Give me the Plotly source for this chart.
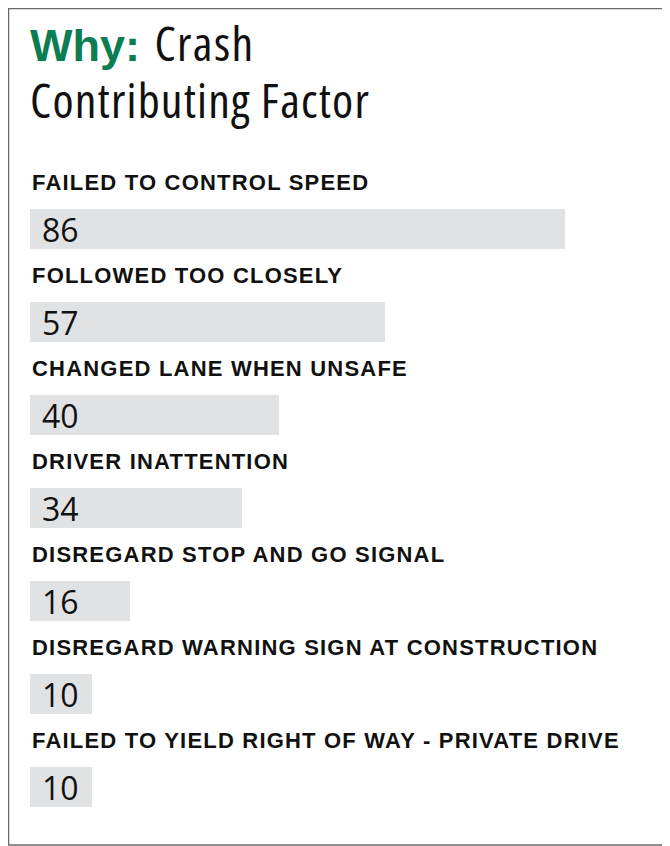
import plotly.graph_objects as go

factors = [
    "FAILED TO CONTROL SPEED",
    "FOLLOWED TOO CLOSELY",
    "CHANGED LANE WHEN UNSAFE",
    "DRIVER INATTENTION",
    "DISREGARD STOP AND GO SIGNAL",
    "DISREGARD WARNING SIGN AT CONSTRUCTION",
    "FAILED TO YIELD RIGHT OF WAY - PRIVATE DRIVE",
]
counts = [86, 57, 40, 34, 16, 10, 10]
title_key = "Why:"
title_rest = ["Crash", "Contributing Factor"]

OFF = 8            # default page margin of the html body
W, H = 670 - OFF, 846 - OFF
X0 = 30.0 - OFF    # pixel where bars start
PXU = 535.0 / 86   # pixels per unit
Y0 = 229.0 - OFF   # pixel centre of first bar
STEP = 93.0        # pixels between bars

GREEN = "#0b7d52"
BAR = "#e1e2e4"
COND = "Open Sans, sans-serif"
BOLD = "Liberation Sans, Arial, Helvetica, sans-serif"


def cond(t, stretch=75, spacing=0.0, size=None):
    st = "font-stretch:%s%%;letter-spacing:%spx" % (stretch, spacing)
    if size:
        st += ";font-size:%spx" % size
    return '<span style="%s">%s</span>' % (st, t)


idx = list(range(len(counts)))

fig = go.Figure()
fig.add_trace(go.Bar(
    x=counts, y=idx, orientation="h",
    marker=dict(color=BAR, line=dict(width=0)),
    width=40 / STEP, hoverinfo="skip",
))


def py(p):
    return 1 - (p - OFF) / H


def px(p):
    return (p - OFF) / W


ann = []
for i, (lab, v) in enumerate(zip(factors, counts)):
    ann.append(dict(text='<span style="letter-spacing:1.2px"><b>' + lab + "</b></span>",
                    x=px(30), y=i - 0.5, xref="paper", yref="y",
                    xanchor="left", yanchor="middle", showarrow=False,
                    font=dict(family=BOLD, size=22, color="#111")))
    ann.append(dict(text=cond(str(v), 90), x=px(40), y=i, xref="paper", yref="y",
                    xanchor="left", yanchor="middle", showarrow=False,
                    font=dict(family=COND, size=32, color="#111")))

title = (
    '<span style="font-family:Liberation Sans, Arial, sans-serif;font-size:45px;color:%s">'
    '<b>%s</b></span>' % (GREEN, title_key)
    + '<span style="letter-spacing:3px"> </span>'
    + cond(title_rest[0], 75, 1.4, 48)
    + "<br>"
    + cond(title_rest[1], 75, 1.2, 48)
)
ann.append(dict(text=title, x=px(28), y=1, xref="paper", yref="paper",
                xanchor="left", yanchor="top", align="left", showarrow=False,
                font=dict(family=COND, size=44, color="#111")))

fig.update_layout(
    width=W, height=H,
    margin=dict(l=0, r=0, t=0, b=0),
    paper_bgcolor="white", plot_bgcolor="white",
    showlegend=False,
    bargap=0,
    xaxis=dict(range=[-X0 / PXU, (W - X0) / PXU], visible=False, fixedrange=True),
    yaxis=dict(range=[(H - Y0) / STEP, -Y0 / STEP], visible=False, fixedrange=True),
    annotations=ann,
    shapes=[dict(type="rect", xref="paper", yref="paper",
                 x0=px(8.5), x1=px(667), y0=py(845), y1=py(8.5),
                 line=dict(color="#6b6b6b", width=1.5), fillcolor="rgba(0,0,0,0)")],
)

fig.write_html("out.html")
